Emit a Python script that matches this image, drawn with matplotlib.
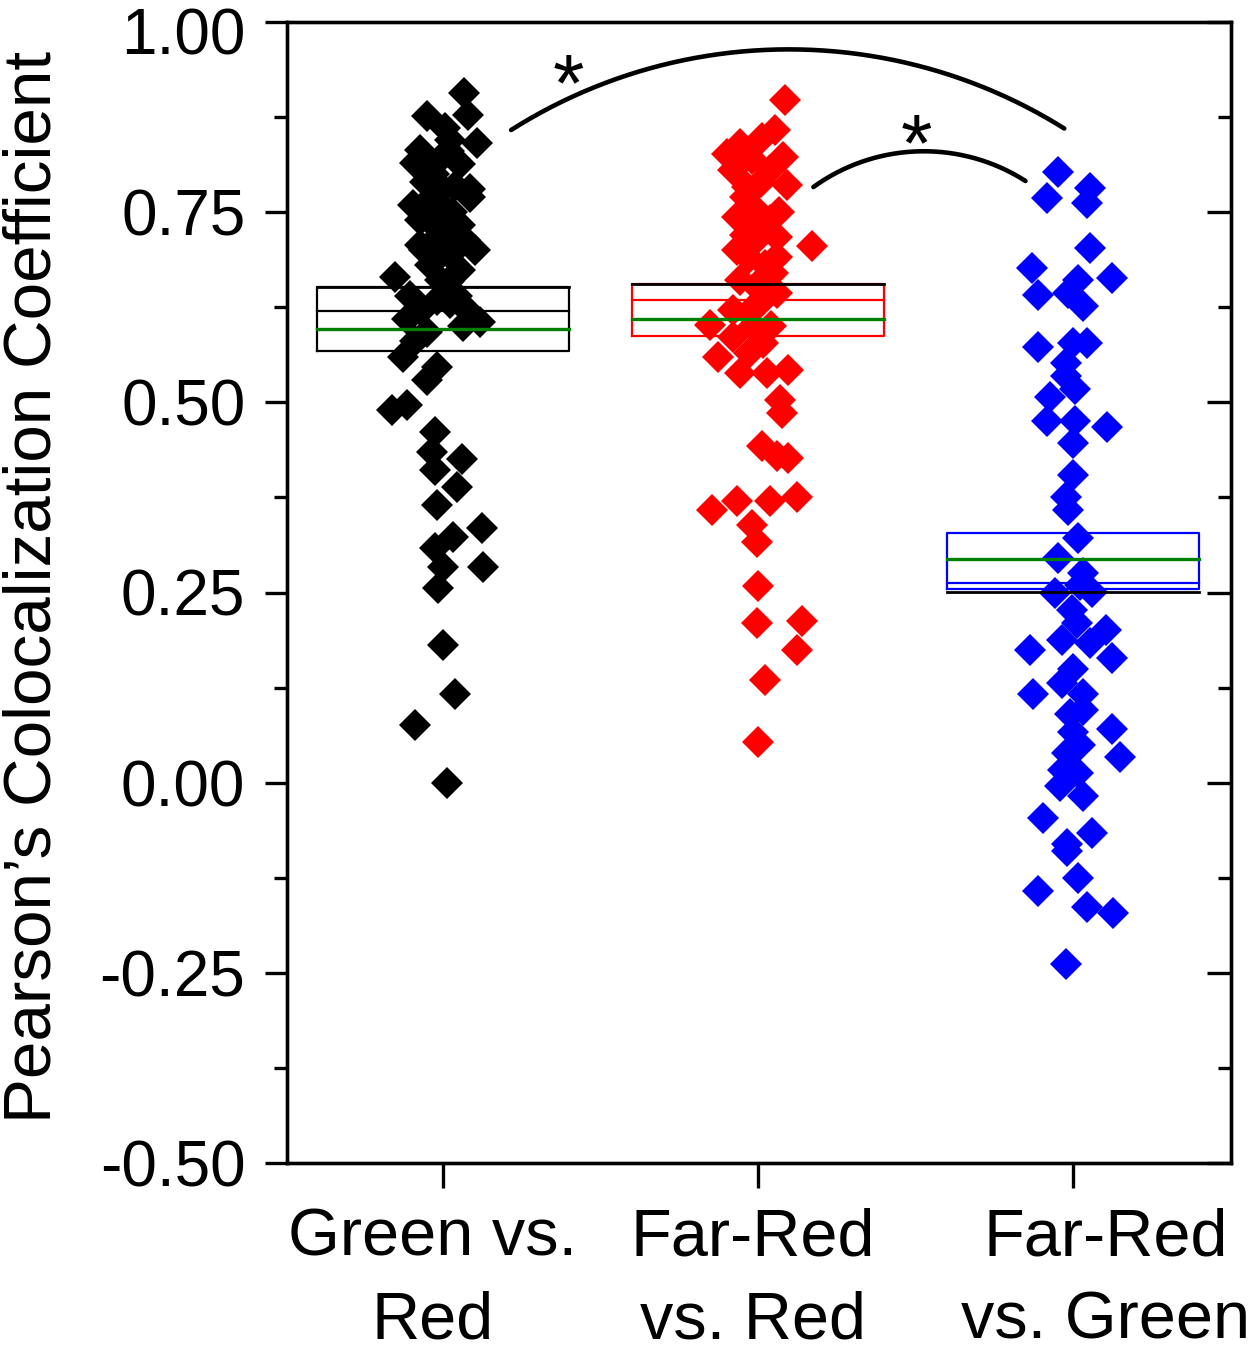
import numpy as np
import matplotlib
matplotlib.use("Agg")
import matplotlib.pyplot as plt
import matplotlib.transforms as mtransforms
from matplotlib.ticker import FixedLocator, MultipleLocator, FormatStrFormatter

plt.rcParams['font.family'] = ['Liberation Sans', 'DejaVu Sans']
plt.rcParams['axes.unicode_minus'] = False

categories = ["Green vs.\nRed", "Far-Red\nvs. Red", "Far-Red\nvs. Green"]
colors = ["black", "#ff0000", "#0000ff"]

# Green vs. Red
g1_y = [0.907, 0.878, 0.876, 0.841, 0.832, 0.845, 0.820, 0.813, 0.790, 0.785,
        0.770, 0.767, 0.753, 0.740, 0.733, 0.720, 0.714, 0.707, 0.694, 0.681,
        0.674, 0.661, 0.665, 0.635, 0.618, 0.605, 0.600, 0.609, 0.592, 0.560,
        0.547, 0.530, 0.490, 0.497, 0.461, 0.435, 0.425, 0.411, 0.389, 0.365,
        0.335, 0.323, 0.309, 0.284, 0.283, 0.256, 0.181, 0.116, 0.076, 0.000,
        0.760, 0.700, 0.640, 0.630, 0.780, 0.860, 0.815,
        0.800, 0.750, 0.700, 0.720, 0.660, 0.690, 0.780, 0.830, 0.640, 0.740,
        0.620, 0.580]
g1_dx = [0.067, 0.079, -0.051, 0.108, -0.073, 0.022, -0.010, 0.054, -0.057, 0.038,
         0.086, -0.041, 0.006, -0.073, 0.054, -0.010, 0.070, -0.073, 0.022, -0.041,
         0.054, -0.010, -0.152, -0.019, 0.086, 0.117, 0.063, -0.114, -0.051, -0.127,
         -0.019, -0.051, -0.162, -0.114, -0.025, -0.035, 0.060, -0.025, 0.044, -0.019,
         0.124, 0.032, -0.025, 0.000, 0.127, -0.016, 0.000, 0.038, -0.089, 0.013,
         -0.095, 0.102, -0.105, 0.022, 0.086, 0.006, -0.089,
         -0.030, 0.030, -0.060, 0.050, 0.020, -0.020, 0.000, 0.020, 0.045, -0.045,
         -0.070, -0.090]

# Far-Red vs. Red
g2_y = [0.898, 0.858, 0.848, 0.826, 0.839, 0.823, 0.806, 0.806, 0.786, 0.783,
        0.705, 0.744, 0.740, 0.757, 0.718, 0.700, 0.710, 0.691, 0.661, 0.670,
        0.644, 0.652, 0.622, 0.631, 0.602, 0.600, 0.586, 0.578, 0.559, 0.539,
        0.539, 0.543, 0.503, 0.486, 0.442, 0.429, 0.427, 0.375, 0.370, 0.370,
        0.359, 0.339, 0.316, 0.258, 0.210, 0.212, 0.175, 0.135, 0.054,
        0.770, 0.680, 0.620, 0.720,
        0.820, 0.790, 0.730, 0.690, 0.660, 0.600, 0.565, 0.750]
g2_dx = [0.086, 0.054, 0.013, -0.098, -0.057, 0.079, 0.038, -0.079, 0.092, -0.035,
         0.171, -0.067, 0.038, -0.016, 0.060, -0.067, -0.016, 0.060, -0.057, 0.048,
         0.060, -0.003, -0.079, 0.006, -0.152, -0.016, -0.079, 0.016, -0.127, -0.057,
         0.029, 0.095, 0.070, 0.076, 0.013, 0.060, 0.095, 0.124, 0.038, -0.067,
         -0.146, -0.019, -0.003, 0.000, -0.003, 0.140, 0.124, 0.022, 0.000,
         -0.041, 0.022, -0.025, -0.041,
         -0.020, 0.010, 0.000, -0.030, 0.010, 0.040, -0.030, 0.065]

# Far-Red vs. Green
g3_y = [0.803, 0.769, 0.782, 0.762, 0.703, 0.677, 0.664, 0.641, 0.661, 0.644,
        0.626, 0.573, 0.578, 0.578, 0.552, 0.534, 0.507, 0.517, 0.475, 0.475,
        0.468, 0.447, 0.405, 0.376, 0.359, 0.322, 0.296, 0.276, 0.250, 0.251,
        0.227, 0.175, 0.188, 0.184, 0.201, 0.164, 0.116, 0.131, 0.116, 0.096,
        0.070, 0.066, 0.034, 0.039, 0.017, 0.013, -0.005, -0.018, -0.046, -0.066,
        -0.081, -0.090, -0.125, -0.143, -0.164, -0.171, -0.239,
        0.150, 0.090, 0.050, 0.210, 0.260]
g3_dx = [-0.048, -0.083, 0.054, 0.044, 0.054, -0.130, 0.124, -0.111, 0.013, -0.016,
         0.032, -0.111, 0.000, 0.044, -0.025, -0.025, -0.073, 0.006, -0.083, 0.006,
         0.108, 0.000, 0.000, -0.025, -0.016, 0.016, -0.048, 0.032, -0.057, 0.060,
         -0.003, -0.137, -0.035, 0.054, 0.102, 0.124, -0.127, -0.035, 0.032, 0.029,
         0.124, 0.000, 0.149, -0.019, -0.032, 0.013, -0.041, 0.029, -0.095, 0.060,
         -0.019, -0.019, 0.016, -0.111, 0.044, 0.127, -0.025,
         0.000, -0.010, 0.020, 0.010, 0.020]

# box summary per group
box_low = [0.568, 0.587, 0.255]
box_high = [0.651, 0.655, 0.328]
box_inner = [0.620, 0.634, 0.263]
box_mean = [0.596, 0.610, 0.294]
box_black = [0.651, 0.655, 0.251]

# significance arcs: (x start, y start, x end, y end, y peak, star x, star y)
sig_arcs = [(1.216, 0.858, 2.971, 0.860, 0.964, 1.397, 0.945),
            (2.175, 0.783, 2.848, 0.791, 0.830, 2.502, 0.866)]

W, H = 1248, 1347
fig = plt.figure(figsize=(W / 100, H / 100), dpi=100)
ax = fig.add_axes([287 / W, 1 - 1163 / H, (1231 - 287) / W, (1163 - 22) / H])
ax.set_xlim(0.505, 3.5)
ax.set_ylim(-0.5, 1.0)

groups = [(g1_dx, g1_y), (g2_dx, g2_y), (g3_dx, g3_y)]
for i, (dx, y) in enumerate(groups):
    xs = np.array(dx) + (i + 1)
    ax.plot(xs, y, linestyle="none", marker="D", markersize=15.8,
            markeredgewidth=0, color=colors[i], zorder=2)

bw = 0.4
for i in range(3):
    xc = i + 1
    c = colors[i]
    ax.plot([xc - bw, xc + bw, xc + bw, xc - bw, xc - bw],
            [box_low[i], box_low[i], box_high[i], box_high[i], box_low[i]],
            color=c, lw=1.6, zorder=3)
    ax.plot([xc - bw, xc + bw], [box_inner[i]] * 2, color=c, lw=1.6, zorder=3)
    ax.plot([xc - bw, xc + bw], [box_black[i]] * 2, color="black", lw=2.0, zorder=3)
    ax.plot([xc - bw, xc + bw], [box_mean[i]] * 2, color="#008000", lw=2.4, zorder=4)


def draw_arc(x0, y0, x1, y1, ypk):
    T = ax.transData
    a = T.transform((x0, y0))
    b = T.transform((x1, y1))
    c = T.transform(((x0 + x1) / 2, ypk))
    # circle through three display points
    A = np.array([[b[0] - a[0], b[1] - a[1]], [c[0] - a[0], c[1] - a[1]]]) * 2
    rhs = np.array([b @ b - a @ a, c @ c - a @ a])
    cen = np.linalg.solve(A, rhs)
    r = np.hypot(*(a - cen))
    t0 = np.arctan2(a[1] - cen[1], a[0] - cen[0])
    t1 = np.arctan2(b[1] - cen[1], b[0] - cen[0])
    t = np.linspace(t0, t1, 200)
    pts = np.column_stack([cen[0] + r * np.cos(t), cen[1] + r * np.sin(t)])
    d = T.inverted().transform(pts)
    ax.plot(d[:, 0], d[:, 1], color="black", lw=3.3, solid_capstyle="round", zorder=5)


star_fs = 58
star_off = mtransforms.offset_copy(ax.transData, fig=fig, y=-0.58 * star_fs, units="points")
for x0, y0, x1, y1, ypk, sx, sy in sig_arcs:
    draw_arc(x0, y0, x1, y1, ypk)
    ax.text(sx, sy, "*", ha="center", va="baseline", fontsize=star_fs,
            transform=star_off, zorder=5)

# axes styling
for s in ax.spines.values():
    s.set_linewidth(2.4)
ax.yaxis.set_major_locator(MultipleLocator(0.25))
ax.yaxis.set_minor_locator(MultipleLocator(0.125))
ax.yaxis.set_major_formatter(FormatStrFormatter("%.2f"))
ax.tick_params(axis="y", which="major", direction="out", length=16, width=2.4,
               labelsize=46, pad=14)
ax.tick_params(axis="y", which="minor", direction="out", length=9.5, width=2.4)
ax.xaxis.set_major_locator(FixedLocator([1, 2, 3]))
ax.tick_params(axis="x", which="major", direction="out", length=18, width=2.4,
               labelbottom=False)

ax2 = ax.twinx()
ax2.set_ylim(ax.get_ylim())
ax2.yaxis.set_major_locator(MultipleLocator(0.25))
ax2.yaxis.set_minor_locator(MultipleLocator(0.125))
ax2.tick_params(axis="y", which="major", direction="in", length=17, width=2.4,
                labelright=False)
ax2.tick_params(axis="y", which="minor", direction="in", length=9.5, width=2.4)
for s in ax2.spines.values():
    s.set_linewidth(2.4)

# push the top label down a little so it stays inside the image
fig.canvas.draw()
for t in ax.get_yticklabels():
    if t.get_text() == "1.00":
        t.set_transform(t.get_transform() +
                        mtransforms.ScaledTranslation(0, -9 / 100, fig.dpi_scale_trans))

label_dx = [-10, -5, 32]
base = mtransforms.blended_transform_factory(ax.transData, ax.transAxes)
for i, lab in enumerate(categories):
    tr = base + mtransforms.ScaledTranslation(label_dx[i] / 100, -45 / 100, fig.dpi_scale_trans)
    ax.text(i + 1, 0, lab, ha="center", va="top", fontsize=48,
            linespacing=1.42, transform=tr, clip_on=False)

ax.set_ylabel("Pearson\u2019s Colocalization Coefficient", fontsize=48.5)
ax.yaxis.set_label_coords(-0.236, 0.505)

fig.savefig("out.png", dpi=100)
